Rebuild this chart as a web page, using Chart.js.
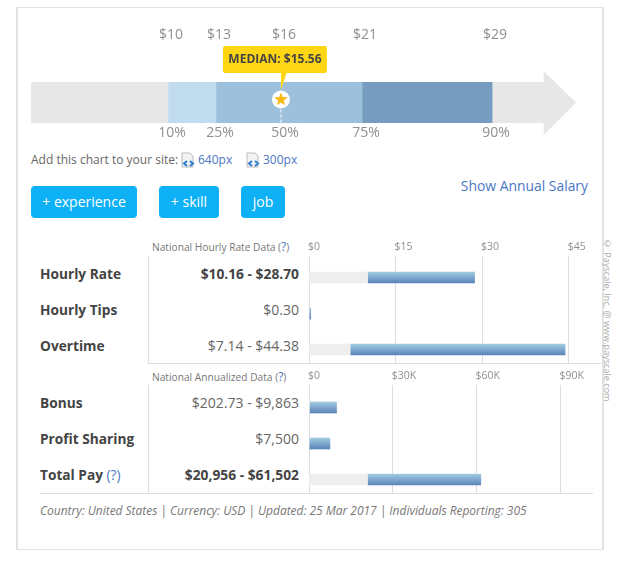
<!DOCTYPE html>
<html>
<head>
<meta charset="utf-8">
<title>Hourly Rate</title>
<script src="https://cdn.jsdelivr.net/npm/chart.js@4"></script>
<style>
    html, body { margin: 0; padding: 0; background: #fff; }
    body { width: 618px; height: 562px; position: relative; overflow: hidden; font-family: "Open Sans", sans-serif; color: #666; }
    .abs { position: absolute; white-space: nowrap; }
    canvas { position: absolute; }
    a { color: #4a76c4; text-decoration: none; }
    .frame { left: 16px; top: 7px; width: 584px; height: 541px; border: 2px solid #e2e2e2; border-top-width: 1px; border-bottom-width: 1px; }
    .btn { top: 186px; height: 32px; line-height: 32px; background: #0eb1f5; color: #fff; border-radius: 4px; text-align: center; font-size: 14px; }
    .head { font-size: 10.2px; color: #777; left: 152px; line-height: 14px; }
    .head a { font-size: 12px; }
    .rowName { left: 40px; font-size: 13.7px; font-weight: 700; color: #444; line-height: 20px; }
    .rowVal { right: 319px; font-size: 14px; color: #666; line-height: 20px; }
    .strong { font-weight: 700; color: #444; font-size: 13.8px; }
    .vline { left: 148px; width: 1px; background: #ddd; }
    .hline { height: 1px; background: #ddd; }
</style>
</head>
<body>
<div class="abs frame"></div>

<canvas id="rangeChart" width="545" height="130" style="left:31px;top:20px"></canvas>

<div class="abs" style="left:31px;top:151px;font-size:12px;line-height:17px">Add this chart to your site:</div>
<svg class="abs" style="left:181px;top:152px" width="15" height="16" viewBox="0 0 15 16"><path d="M1 1h8l3 3v11H1z" fill="#f2f2f2" stroke="#bbb"/><path d="M6 9l-3 2.500 3 2.500M9 9l3 2.500-3 2.500" fill="none" stroke="#2f7fd0" stroke-width="2"/></svg>
<a class="abs" style="left:198px;top:151px;font-size:12px;line-height:17px">640px</a>
<svg class="abs" style="left:246px;top:152px" width="15" height="16" viewBox="0 0 15 16"><path d="M1 1h8l3 3v11H1z" fill="#f2f2f2" stroke="#bbb"/><path d="M6 9l-3 2.500 3 2.500M9 9l3 2.500-3 2.500" fill="none" stroke="#2f7fd0" stroke-width="2"/></svg>
<a class="abs" style="left:263px;top:151px;font-size:12px;line-height:17px">300px</a>

<div class="abs btn" style="left:31px;width:106px">+ experience</div>
<div class="abs btn" style="left:159px;width:60px">+ skill</div>
<div class="abs btn" style="left:241px;width:44px">job</div>
<a class="abs" style="right:30px;top:176px;font-size:13.9px;line-height:20px">Show Annual Salary</a>

<div class="abs head" style="top:240px">National Hourly Rate Data (<a>?</a>)</div>
<div class="abs head" style="top:370px">National Annualized Data (<a>?</a>)</div>
<div class="abs vline" style="top:256px;height:107px"></div>
<div class="abs vline" style="top:385px;height:108px"></div>

<canvas id="hourlyChart" width="300" height="125" style="left:300px;top:238px"></canvas>
<canvas id="annualChart" width="300" height="125" style="left:300px;top:368px"></canvas>
<div class="abs hline" style="left:148px;top:363px;width:453px"></div>
<div class="abs hline" style="left:40px;top:493px;width:553px"></div>
<div id="rows"></div>

<div class="abs" style="left:40px;top:502px;font-size:12px;letter-spacing:-0.03px;font-style:italic;color:#777;line-height:17px">Country: United States | Currency: USD | Updated: 25 Mar 2017 | Individuals Reporting: 305</div>
<div class="abs" style="left:600px;top:237px;font-size:9.1px;color:#aaa;line-height:14px;writing-mode:vertical-rl">© Payscale, Inc. @ www.payscale.com</div>

<script>
// percentile bar
const percentLabels = ['10%', '25%', '50%', '75%', '90%'];
const dollarLabels = ['$10', '$13', '$16', '$21', '$29'];
const percentileValues = [10.16, 12.9, 16.62, 21.26, 28.7];
const medianText = 'MEDIAN: $15.56';

// hourly table
const hourlyNames = ['Hourly Rate', 'Hourly Tips', 'Overtime'];
const hourlyText = ['$10.16 - $28.70', '$0.30', '$7.14 - $44.38'];
const hourlyLow = [10.16, 0, 7.14];
const hourlyHigh = [28.7, 0.3, 44.38];
const hourlyTicks = [0, 15, 30, 45];
const hourlyTickLabels = ['$0', '$15', '$30', '$45'];

// annual table
const annualNames = ['Bonus', 'Profit Sharing', 'Total Pay'];
const annualText = ['$202.73 - $9,863', '$7,500', '$20,956 - $61,502'];
const annualLow = [202.73, 0, 20956];
const annualHigh = [9863, 7500, 61502];
const annualTicks = [0, 30000, 60000, 90000];
const annualTickLabels = ['$0', '$30K', '$60K', '$90K'];

const boldRows = ['Hourly Rate', 'Total Pay'];
const tickColor = '#8f8f8f';
const font = 'Open Sans';

Chart.defaults.font.family = font;
Chart.defaults.animation = false;

// row labels
const rowsEl = document.getElementById('rows');
const addRows = (names, texts, firstTop) => {
    names.forEach((name, i) => {
        const top = firstTop + i * 36;
        const bold = boldRows.includes(name) ? ' strong' : '';
        const extra = name === 'Total Pay' ? ' <a style="font-weight:400">(?)</a>' : '';
        rowsEl.insertAdjacentHTML('beforeend',
            `<div class="abs rowName" style="top:${top}px">${name}${extra}</div>` +
            `<div class="abs rowVal${bold}" style="top:${top}px">${texts[i]}</div>`);
    });
};
addRows(hourlyNames, hourlyText, 264);
addRows(annualNames, annualText, 393);

// arrow head, median marker and the yellow label
const rangeMarks = {
    id: 'rangeMarks',
    afterDatasetsDraw(chart) {
        const { ctx, chartArea, scales } = chart;
        const x = scales.x;
        const midY = (chartArea.top + chartArea.bottom) / 2;
        const mx = x.getPixelForValue(percentileValues[2]);
        const headX = x.getPixelForValue(31.65);

        ctx.save();
        ctx.fillStyle = '#e7e7e7';
        ctx.beginPath();
        ctx.moveTo(headX, chartArea.top - 11);
        ctx.lineTo(x.right, midY);
        ctx.lineTo(headX, chartArea.bottom + 12);
        ctx.closePath();
        ctx.fill();

        ctx.strokeStyle = '#fff';
        ctx.setLineDash([3, 2]);
        ctx.beginPath();
        ctx.moveTo(mx, midY - 3);
        ctx.lineTo(mx, chartArea.bottom);
        ctx.stroke();
        ctx.setLineDash([]);

        ctx.fillStyle = '#fff';
        ctx.beginPath();
        ctx.arc(mx, midY - 3, 9, 0, Math.PI * 2);
        ctx.fill();

        ctx.fillStyle = '#fdb913';
        ctx.beginPath();
        for (let i = 0; i < 10; i++) {
            const r = i % 2 ? 3 : 7;
            const a = -Math.PI / 2 + i * Math.PI / 5;
            ctx.lineTo(mx + r * Math.cos(a), midY - 3 + r * Math.sin(a));
        }
        ctx.closePath();
        ctx.fill();

        ctx.fillStyle = '#ffd614';
        ctx.beginPath();
        ctx.roundRect(mx - 58, chartArea.top - 36, 104, 27, 2);
        ctx.fill();
        ctx.beginPath();
        ctx.moveTo(mx, chartArea.top - 10);
        ctx.lineTo(mx + 6, chartArea.top - 10);
        ctx.lineTo(mx, chartArea.top + 8);
        ctx.closePath();
        ctx.fill();

        ctx.fillStyle = '#444';
        ctx.font = 'bold 12px "Open Sans"';
        ctx.textAlign = 'center';
        ctx.textBaseline = 'middle';
        ctx.fillText(medianText, mx - 6, chartArea.top - 22);
        ctx.restore();
    }
};

const segment = (from, to, color) => ({
    data: [[from, to]],
    backgroundColor: color,
    grouped: false,
    barPercentage: 1,
    categoryPercentage: 1
});

new Chart(document.getElementById('rangeChart'), {
    type: 'bar',
    data: {
        labels: ['Hourly Rate'],
        datasets: [
            segment(2.32, percentileValues[0], '#e7e7e7'),
            segment(percentileValues[0], percentileValues[1], '#c1dcef'),
            segment(percentileValues[1], percentileValues[3], '#9dc1dc'),
            segment(percentileValues[3], percentileValues[4], '#769dbf'),
            segment(percentileValues[4], 31.65, '#e7e7e7')
        ]
    },
    options: {
        indexAxis: 'y',
        responsive: false,
        layout: { padding: 0 },
        plugins: { legend: { display: false }, tooltip: { enabled: false } },
        scales: {
            y: { display: false },
            x: {
                position: 'bottom',
                min: 2.32,
                max: 33.5,
                afterBuildTicks: axis => { axis.ticks = percentileValues.map(value => ({ value })); },
                afterFit: axis => { axis.height = 27; },
                grid: { display: false, drawTicks: false },
                border: { display: false },
                ticks: {
                    autoSkip: false,
                    maxRotation: 0,
                    padding: 2,
                    labelOffset: 4,
                    color: tickColor,
                    font: { size: 14 },
                    callback: (v, i) => percentLabels[i]
                }
            },
            xTop: {
                position: 'top',
                min: 2.32,
                max: 33.5,
                afterBuildTicks: axis => { axis.ticks = percentileValues.map(value => ({ value })); },
                afterFit: axis => { axis.height = 62; },
                grid: { display: false, drawTicks: false },
                border: { display: false },
                ticks: {
                    autoSkip: false,
                    maxRotation: 0,
                    padding: 39,
                    labelOffset: 3,
                    color: tickColor,
                    font: { size: 14 },
                    callback: (v, i) => dollarLabels[i]
                }
            }
        }
    },
    plugins: [rangeMarks]
});

// gradient on each blue bar
const barGradient = context => {
    const chart = context.chart;
    if (!chart.chartArea || !context.parsed) return '#7ba6cf';
    const y = chart.scales.y.getPixelForValue(context.parsed.y);
    const g = chart.ctx.createLinearGradient(0, y - 5.5, 0, y + 5.5);
    g.addColorStop(0, '#a3cbe2');
    g.addColorStop(1, '#5a85ba');
    return g;
};

const buildTableChart = (canvasId, low, high, xMax, tickValues, tickLabels, yMin, axisHeight) => {
    const points = values => values.map((v, i) => ({ x: v, y: i }));
    new Chart(document.getElementById(canvasId), {
        type: 'bar',
        data: {
            datasets: [
                {
                    data: points(low.map(v => [0, v])),
                    backgroundColor: '#eeeeee',
                    grouped: false,
                    barThickness: 11
                },
                {
                    data: points(low.map((v, i) => [v, high[i]])),
                    backgroundColor: barGradient,
                    grouped: false,
                    barThickness: 11
                }
            ]
        },
        options: {
            indexAxis: 'y',
            responsive: false,
            layout: { padding: { left: 9, right: 7 } },
            plugins: { legend: { display: false }, tooltip: { enabled: false } },
            scales: {
                y: { type: 'linear', display: false, offset: false, reverse: true, min: yMin, max: 2.375 },
                x: {
                    position: 'top',
                    min: 0,
                    max: xMax,
                    afterBuildTicks: axis => { axis.ticks = tickValues.map(value => ({ value })); },
                    afterFit: axis => { axis.height = axisHeight; },
                    grid: { color: '#dddddd', drawTicks: false },
                    border: { display: false },
                    ticks: {
                        autoSkip: false,
                        align: 'start',
                        maxRotation: 0,
                        padding: 3,
                        labelOffset: -1,
                        color: tickColor,
                        font: { size: 10.5 },
                        callback: (v, i) => tickLabels[i]
                    }
                }
            }
        }
    });
};

buildTableChart('hourlyChart', hourlyLow, hourlyHigh, 49.22, hourlyTicks, hourlyTickLabels, -0.597, 18);
buildTableChart('annualChart', annualLow, annualHigh, 101670, annualTicks, annualTickLabels, -0.625, 17);
</script>
</body>
</html>
